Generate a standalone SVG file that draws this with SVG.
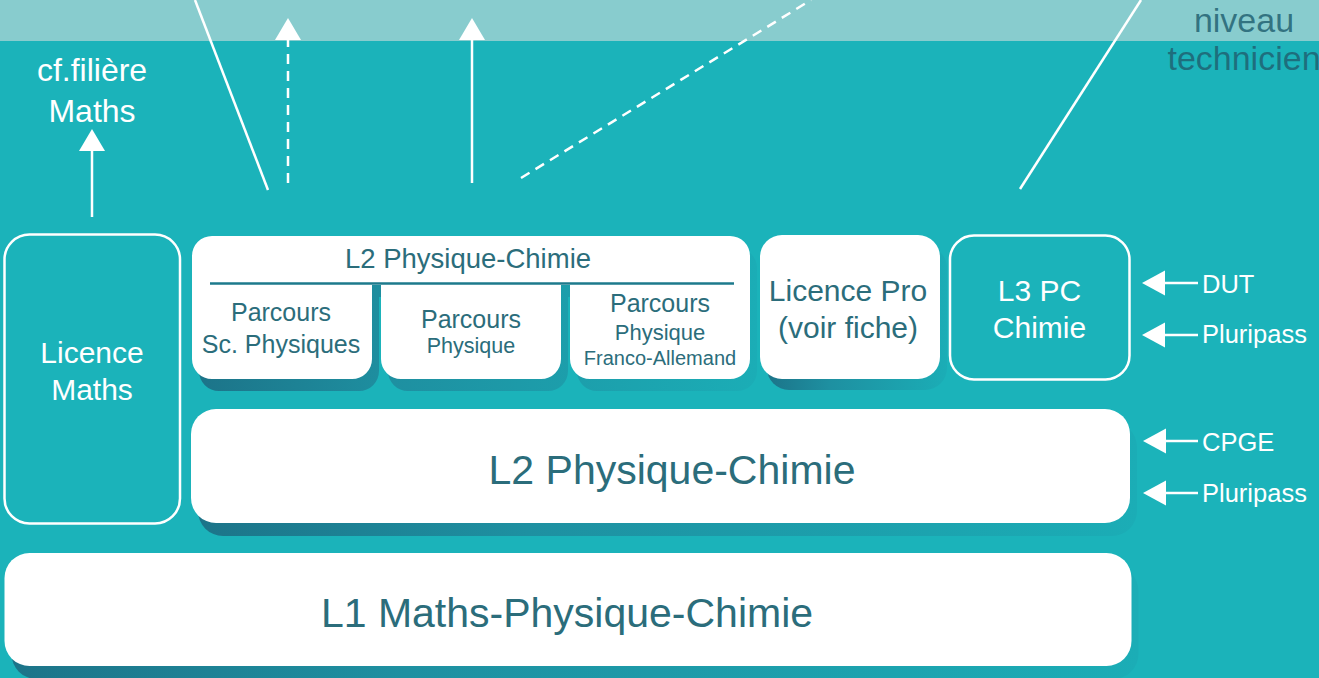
<svg xmlns="http://www.w3.org/2000/svg" width="1319" height="678" viewBox="0 0 1319 678">
<defs>
<style>
.t{font-family:"Liberation Sans",Arial,Helvetica,sans-serif;text-anchor:middle}
.dk{fill:#2B6D7B}
.wt{fill:#ffffff}
.box{fill:#ffffff}
.out{fill:none;stroke:#ffffff;stroke-width:2.5}
.ln{stroke:#ffffff;stroke-width:2.5;fill:none}
.dash{stroke-dasharray:10 7}
.sh{fill:url(#shg)}
.lab{font-family:"Liberation Sans",Arial,Helvetica,sans-serif;font-size:25.5px;fill:#ffffff}
</style>
<linearGradient id="shg" x1="0" y1="0" x2="1" y2="0">
<stop offset="0" stop-color="#1C7489"/>
<stop offset="0.35" stop-color="#1E90A1"/>
<stop offset="1" stop-color="#1BADB6"/>
</linearGradient>
<marker id="ah" markerUnits="userSpaceOnUse" markerWidth="24" markerHeight="28" refX="0" refY="13" orient="auto">
<path d="M0,0 L22,13 L0,26 Z" fill="#ffffff"/>
</marker>
<marker id="ahs" markerUnits="userSpaceOnUse" markerWidth="26" markerHeight="28" refX="0" refY="12.5" orient="auto">
<path d="M0,0 L23,12.5 L0,25 Z" fill="#ffffff"/>
</marker>
</defs>

<rect x="0" y="0" width="1319" height="678" fill="#1BB3BA"/>
<rect x="0" y="0" width="1319" height="41" fill="#88CCCE"/>

<g id="connectors">
<line class="ln" x1="195" y1="0" x2="268" y2="190"/>
<line class="ln dash" x1="288" y1="183" x2="288" y2="40" marker-end="url(#ah)"/>
<line class="ln" x1="472" y1="183" x2="472" y2="40" marker-end="url(#ah)"/>
<line class="ln dash" x1="521" y1="178" x2="811" y2="0"/>
<line class="ln" x1="1020" y1="189" x2="1141" y2="0"/>
<line class="ln" x1="92" y1="217" x2="92" y2="151" marker-end="url(#ah)"/>
<line class="ln" stroke-width="2" x1="1198" y1="283" x2="1165" y2="283" marker-end="url(#ahs)"/>
<line class="ln" stroke-width="2" x1="1198" y1="335" x2="1165" y2="335" marker-end="url(#ahs)"/>
<line class="ln" stroke-width="2" x1="1198" y1="441" x2="1166" y2="441" marker-end="url(#ahs)"/>
<line class="ln" stroke-width="2" x1="1198" y1="493" x2="1166" y2="493" marker-end="url(#ahs)"/>
</g>

<g id="niveau-technicien">
<text class="t" x="1244" y="32" font-size="34" fill="#1F5F70" fill-opacity="0.82">niveau</text>
<text class="t" x="1244" y="70" font-size="34" fill="#1F5F70" fill-opacity="0.82">technicien</text>
</g>

<g id="cf-filiere-maths">
<text class="t wt" x="92" y="81" font-size="32">cf.filière</text>
<text class="t wt" x="92" y="122" font-size="32">Maths</text>
</g>

<g id="licence-maths">
<rect class="out" x="4.5" y="234.5" width="175.5" height="289" rx="25"/>
<text class="t wt" x="92" y="363" font-size="30">Licence</text>
<text class="t wt" x="92" y="400" font-size="30">Maths</text>
</g>

<g id="l2-parcours">
<path class="sh" transform="translate(7,12)" d="M192,256 a20,20 0 0 1 20,-20 H730 a20,20 0 0 1 20,20 V285 H192 Z M192,284 H372 V359 a20,20 0 0 1 -20,20 H212 a20,20 0 0 1 -20,-20 Z M381,284 H561 V359 a20,20 0 0 1 -20,20 H401 a20,20 0 0 1 -20,-20 Z M570,284 H750 V359 a20,20 0 0 1 -20,20 H590 a20,20 0 0 1 -20,-20 Z"/>
<path class="box" d="M192,256 a20,20 0 0 1 20,-20 H730 a20,20 0 0 1 20,20 V285 H192 Z M192,284 H372 V359 a20,20 0 0 1 -20,20 H212 a20,20 0 0 1 -20,-20 Z M381,284 H561 V359 a20,20 0 0 1 -20,20 H401 a20,20 0 0 1 -20,-20 Z M570,284 H750 V359 a20,20 0 0 1 -20,20 H590 a20,20 0 0 1 -20,-20 Z"/>
<line x1="210" y1="283.5" x2="734" y2="283.5" stroke="#1D7A8C" stroke-width="2.5"/>
<text class="t dk" x="468" y="268" font-size="27.5">L2 Physique-Chimie</text>
<text class="t dk" x="281" y="321" font-size="25">Parcours</text>
<text class="t dk" x="281" y="353" font-size="25">Sc. Physiques</text>
<text class="t dk" x="471" y="328" font-size="25">Parcours</text>
<text class="t dk" x="471" y="353" font-size="21.5">Physique</text>
<text class="t dk" x="660" y="312" font-size="25">Parcours</text>
<text class="t dk" x="660" y="340" font-size="22">Physique</text>
<text class="t dk" x="660" y="365" font-size="20">Franco-Allemand</text>
</g>

<g id="licence-pro">
<rect class="sh" x="767" y="246" width="180" height="144" rx="22"/>
<rect class="box" x="760" y="235" width="180" height="144" rx="22"/>
<text class="t dk" x="848" y="301" font-size="30">Licence Pro</text>
<text class="t dk" x="848" y="338" font-size="30">(voir fiche)</text>
</g>

<g id="l3-pc-chimie">
<rect class="out" x="950" y="235.5" width="179.5" height="144" rx="24"/>
<text class="t wt" x="1039.5" y="301" font-size="30">L3 PC</text>
<text class="t wt" x="1039.5" y="337.5" font-size="30">Chimie</text>
</g>

<g id="l2-physique-chimie">
<rect class="sh" x="198" y="422" width="939" height="114" rx="25"/>
<rect class="box" x="191" y="409" width="939" height="114" rx="25"/>
<text class="t dk" x="672" y="484" font-size="41">L2 Physique-Chimie</text>
</g>

<g id="l1-maths-physique-chimie">
<rect class="sh" x="11.5" y="566" width="1127" height="113" rx="25"/>
<rect class="box" x="4.5" y="553" width="1127" height="113" rx="25"/>
<text class="t dk" x="567" y="627" font-size="41">L1 Maths-Physique-Chimie</text>
</g>

<g id="entries">
<text class="lab" x="1202" y="293">DUT</text>
<text class="lab" x="1202" y="343">Pluripass</text>
<text class="lab" x="1202" y="451">CPGE</text>
<text class="lab" x="1202" y="502">Pluripass</text>
</g>
</svg>
